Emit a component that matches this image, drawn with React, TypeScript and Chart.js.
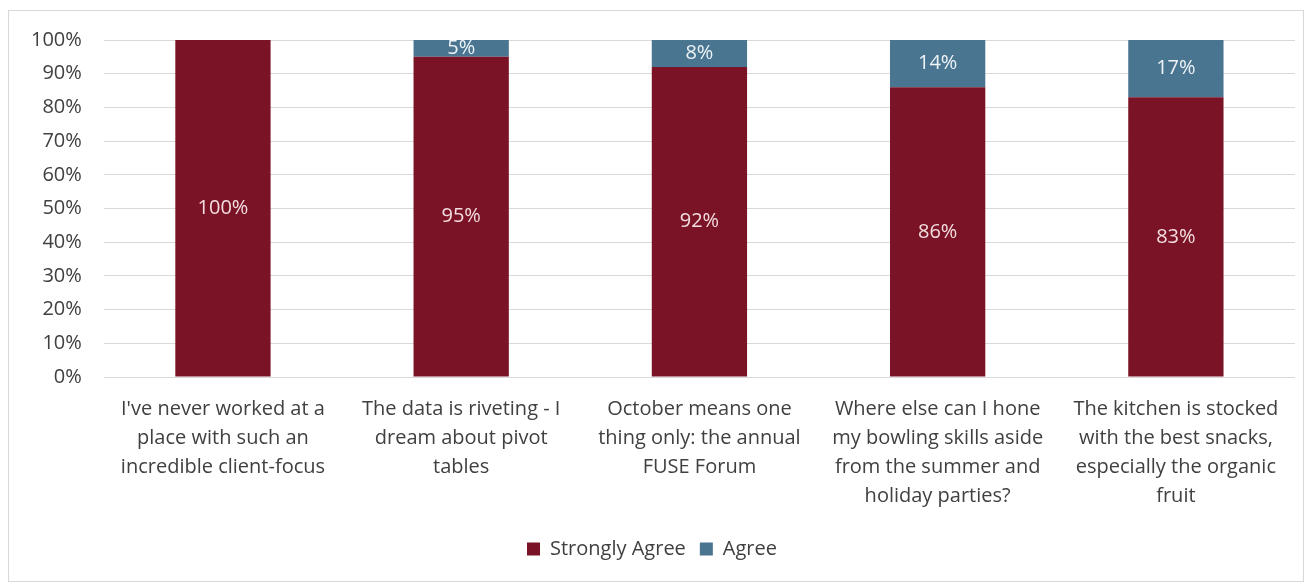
import React, { useEffect, useRef } from "react";
import { Chart, registerables } from "chart.js";

Chart.register(...registerables);

const categories: string[][] = [
  ["I've never worked at a", "place with such an", "incredible client-focus"],
  ["The data is riveting - I", "dream about pivot", "tables"],
  ["October means one", "thing only: the annual", "FUSE Forum"],
  ["Where else can I hone", "my bowling skills aside", "from the summer and", "holiday parties?"],
  ["The kitchen is stocked", "with the best snacks,", "especially the organic", "fruit"],
];
const stronglyAgree: number[] = [100, 95, 92, 86, 83];
const agree: number[] = [0, 5, 8, 14, 17];
const yTicks: number[] = [0, 10, 20, 30, 40, 50, 60, 70, 80, 90, 100];

const RED = "#7B1326";
const BLUE = "#4A7591";
const FONT = "'Open Sans', Lato, sans-serif";

const labelPlugin = {
  id: "segLabels",
  afterDatasetsDraw(chart: any) {
    const ctx = chart.ctx;
    ctx.save();
    ctx.font = `20px ${FONT}`;
    ctx.textAlign = "center";
    ctx.textBaseline = "middle";
    chart.data.datasets.forEach((ds: any, di: number) => {
      const meta = chart.getDatasetMeta(di);
      meta.data.forEach((el: any, i: number) => {
        const v = ds.data[i];
        if (!v) return;
        const p = el.getProps(["x", "y", "base"], true);
        ctx.fillStyle = di === 0 ? "#F3DDE0" : "#EEF3F7";
        ctx.fillText(v + "%", p.x, (p.y + p.base) / 2);
      });
    });
    ctx.restore();
  },
};

export default function App() {
  const ref = useRef<HTMLCanvasElement | null>(null);
  useEffect(() => {
    if (!ref.current) return;
    const chart = new Chart(ref.current, {
      type: "bar",
      data: {
        labels: categories,
        datasets: [
          { label: "Strongly Agree", data: stronglyAgree, backgroundColor: RED, categoryPercentage: 1, barPercentage: 0.4 },
          { label: "Agree", data: agree, backgroundColor: BLUE, categoryPercentage: 1, barPercentage: 0.4 },
        ],
      },
      options: {
        animation: false,
        responsive: false,
        maintainAspectRatio: false,
        layout: { padding: { left: 0, right: 8, top: 0, bottom: 14 } },
        plugins: {
          legend: {
            position: "bottom",
            labels: {
              boxWidth: 13,
              boxHeight: 13,
              color: "#404040",
              font: { family: FONT, size: 20 },
              padding: 14,
            },
          },
          tooltip: { enabled: false },
        },
        scales: {
          x: {
            stacked: true,
            grid: { display: false },
            border: { display: false },
            afterFit: (axis: any) => {
              axis.height += 4;
            },
            ticks: {
              color: "#404040",
              font: { family: FONT, size: 20, lineHeight: 1.45 },
              maxRotation: 0,
              autoSkip: false,
              padding: 10,
            },
          },
          y: {
            stacked: true,
            min: 0,
            max: 100,
            afterBuildTicks: (axis: any) => {
              axis.ticks = yTicks.map((v) => ({ value: v }));
            },
            grid: { color: "#D9D9D9", drawTicks: false },
            border: { display: false },
            ticks: {
              color: "#404040",
              font: { family: FONT, size: 20 },
              padding: 22,
              callback: (v: any) => v + "%",
            },
          },
        },
      },
      plugins: [labelPlugin],
    });
    return () => chart.destroy();
  }, []);
  return (
    <div
      style={{
        width: 1294,
        height: 570,
        border: "1px solid #D9D9D9",
        marginTop: 2,
        background: "#fff",
        overflow: "hidden",
      }}
    >
      <canvas ref={ref} width={1294} height={577} style={{ display: "block", marginTop: -5 }} />
    </div>
  );
}
